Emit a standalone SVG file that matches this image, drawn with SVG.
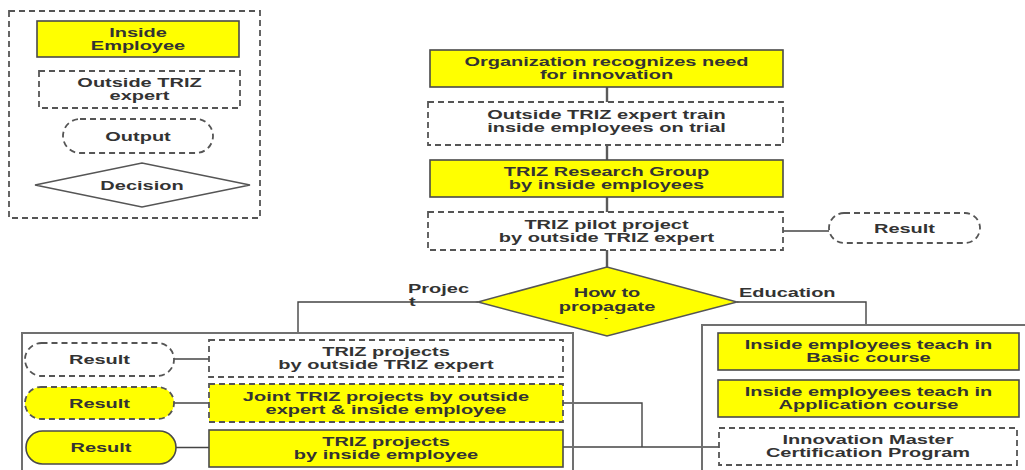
<svg xmlns="http://www.w3.org/2000/svg" width="1025" height="470" viewBox="0 0 1025 470">
<style>
  .y { fill: #ffff00; stroke: #4a4a4a; stroke-width: 1.6; }
  .d { fill: #ffffff; stroke: #555555; stroke-width: 1.8; stroke-dasharray: 6 4; }
  .yd { fill: #ffff00; stroke: #555555; stroke-width: 1.8; stroke-dasharray: 6 4; }
  .cont { fill: none; stroke: #707070; stroke-width: 2; }
  .c { fill: none; stroke: #444444; stroke-width: 1.4; }
  .cm { fill: none; stroke: #5a5a5a; stroke-width: 2.4; }
  text { font-family: "Liberation Sans", Arial, sans-serif; font-size: 12.5px; font-weight: bold; fill: #333333; }
  .m { text-anchor: middle; }
  .s { text-anchor: start; }
</style>

<g id="legend">
  <rect x="9" y="11" width="251" height="207" class="d" fill="none"/>
  <g id="legend-inside">
    <rect x="37" y="21" width="202" height="36" class="y"/>
    <text class="m" transform="translate(138,0) scale(1.6,1)" y="37.2">Inside</text>
    <text class="m" transform="translate(138,0) scale(1.6,1)" y="50">Employee</text>
  </g>
  <g id="legend-outside">
    <rect x="39" y="71" width="201" height="37" class="d"/>
    <text class="m" transform="translate(139.5,0) scale(1.6,1)" y="87.3">Outside TRIZ</text>
    <text class="m" transform="translate(139.5,0) scale(1.6,1)" y="100.2">expert</text>
  </g>
  <g id="legend-output">
    <rect x="63" y="119" width="150" height="34" rx="17" class="d"/>
    <text class="m" transform="translate(138,0) scale(1.6,1)" y="140.8">Output</text>
  </g>
  <g id="legend-decision">
    <polygon points="35,185 142,163 250,185 142,207" fill="#ffffff" stroke="#555555" stroke-width="1.5"/>
    <text class="m" transform="translate(142,0) scale(1.6,1)" y="190">Decision</text>
  </g>
</g>

<g id="connectors">
  <line x1="607" y1="87" x2="607" y2="102" class="cm"/>
  <line x1="607" y1="145" x2="607" y2="160" class="cm"/>
  <line x1="607" y1="197" x2="607" y2="212" class="cm"/>
  <line x1="607" y1="250" x2="607" y2="267" class="cm"/>
  <line x1="783" y1="231" x2="829" y2="231" class="c"/>
  <polyline points="478,302 298,302 298,333" class="c"/>
  <polyline points="737,302 866,302 866,325" class="c"/>
  <line x1="174" y1="359" x2="209" y2="359" class="c"/>
  <line x1="174" y1="403" x2="209" y2="403" class="c"/>
  <line x1="176" y1="447.5" x2="209" y2="447.5" class="c"/>
  <polyline points="563,403 642,403 642,447" class="c"/>
  <line x1="563" y1="447" x2="719" y2="447" class="c"/>
</g>

<g id="org">
  <rect x="430" y="50" width="353" height="37" class="y"/>
  <text class="m" transform="translate(606.5,0) scale(1.6,1)" y="66.4">Organization recognizes need</text>
  <text class="m" transform="translate(606.5,0) scale(1.6,1)" y="79.4">for innovation</text>
</g>
<g id="train">
  <rect x="428" y="102" width="355" height="43" class="d"/>
  <text class="m" transform="translate(606.5,0) scale(1.6,1)" y="119.3">Outside TRIZ expert train</text>
  <text class="m" transform="translate(606.5,0) scale(1.6,1)" y="132.4">inside employees on trial</text>
</g>
<g id="research">
  <rect x="430" y="160" width="353" height="37" class="y"/>
  <text class="m" transform="translate(606.5,0) scale(1.6,1)" y="176.4">TRIZ Research Group</text>
  <text class="m" transform="translate(606.5,0) scale(1.6,1)" y="189.4">by inside employees</text>
</g>
<g id="pilot">
  <rect x="428" y="212" width="355" height="38" class="d"/>
  <text class="m" transform="translate(606.5,0) scale(1.6,1)" y="229">TRIZ pilot project</text>
  <text class="m" transform="translate(606.5,0) scale(1.6,1)" y="242.1">by outside TRIZ expert</text>
</g>
<g id="result-pilot">
  <rect x="829" y="213" width="151" height="30" rx="15" class="d"/>
  <text class="m" transform="translate(904.5,0) scale(1.6,1)" y="233">Result</text>
</g>
<g id="propagate">
  <polygon points="478,302 607,267 737,302 607,336" fill="#ffff00" stroke="#555555" stroke-width="1.5"/>
  <text class="m" transform="translate(607,0) scale(1.6,1)" y="297.4">How to</text>
  <text class="m" transform="translate(607,0) scale(1.6,1)" y="310.6">propagate</text>
  <text class="m" transform="translate(606,0) scale(1.6,1)" y="320" style="font-size:7px">-</text>
</g>
<g id="labels">
  <text class="s" transform="translate(408,0) scale(1.6,1)" y="293">Projec</text>
  <text class="s" transform="translate(409,0) scale(1.6,1)" y="305.8">t</text>
  <text class="s" transform="translate(739,0) scale(1.6,1)" y="297.3">Education</text>
</g>

<g id="project-container">
  <rect x="22" y="333" width="551" height="150" class="cont"/>
</g>
<g id="result1">
  <rect x="25" y="343" width="149" height="33" rx="16.5" class="d"/>
  <text class="m" transform="translate(99.5,0) scale(1.6,1)" y="364">Result</text>
</g>
<g id="proj-outside">
  <rect x="209" y="340" width="354" height="37" class="d"/>
  <text class="m" transform="translate(386,0) scale(1.6,1)" y="356.4">TRIZ projects</text>
  <text class="m" transform="translate(386,0) scale(1.6,1)" y="369.4">by outside TRIZ expert</text>
</g>
<g id="result2">
  <rect x="25" y="387" width="149" height="32" rx="16" class="yd"/>
  <text class="m" transform="translate(99.5,0) scale(1.6,1)" y="407.6">Result</text>
</g>
<g id="proj-joint">
  <rect x="209" y="384" width="354" height="38" class="yd"/>
  <text class="m" transform="translate(386,0) scale(1.6,1)" y="400.9">Joint TRIZ projects by outside</text>
  <text class="m" transform="translate(386,0) scale(1.6,1)" y="413.9">expert &amp; inside employee</text>
</g>
<g id="result3">
  <rect x="26" y="431" width="150" height="33" rx="16.5" class="y"/>
  <text class="m" transform="translate(101,0) scale(1.6,1)" y="452">Result</text>
</g>
<g id="proj-inside">
  <rect x="209" y="430" width="354" height="37" class="y"/>
  <text class="m" transform="translate(386,0) scale(1.6,1)" y="446.4">TRIZ projects</text>
  <text class="m" transform="translate(386,0) scale(1.6,1)" y="459.4">by inside employee</text>
</g>

<g id="education-container">
  <rect x="702" y="325" width="340" height="160" class="cont"/>
</g>
<g id="basic">
  <rect x="718" y="333" width="301" height="37" class="y"/>
  <text class="m" transform="translate(868.5,0) scale(1.6,1)" y="349.4">Inside employees teach in</text>
  <text class="m" transform="translate(868.5,0) scale(1.6,1)" y="362.4">Basic course</text>
</g>
<g id="application">
  <rect x="718" y="380" width="301" height="37" class="y"/>
  <text class="m" transform="translate(868.5,0) scale(1.6,1)" y="396.4">Inside employees teach in</text>
  <text class="m" transform="translate(868.5,0) scale(1.6,1)" y="409.4">Application course</text>
</g>
<g id="certification">
  <rect x="719" y="428" width="298" height="37" class="d"/>
  <text class="m" transform="translate(868,0) scale(1.6,1)" y="444.4">Innovation Master</text>
  <text class="m" transform="translate(868,0) scale(1.6,1)" y="457.4">Certification Program</text>
</g>
</svg>
